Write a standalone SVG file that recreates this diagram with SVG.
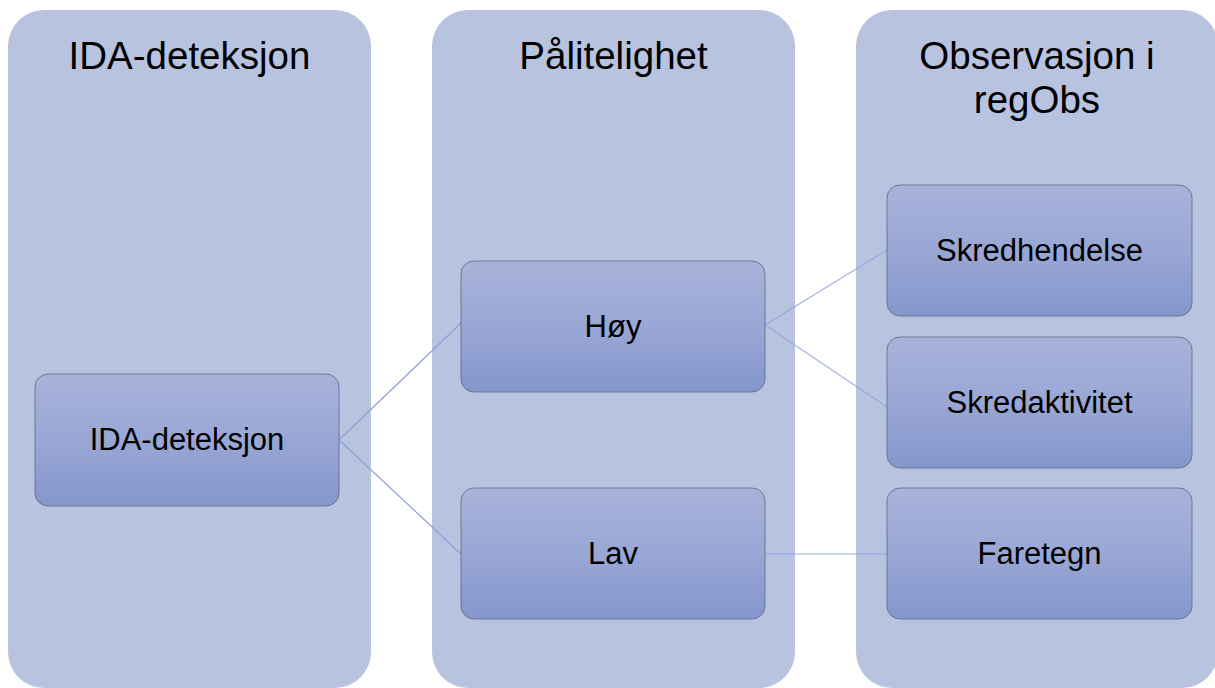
<svg xmlns="http://www.w3.org/2000/svg" width="1215" height="688" viewBox="0 0 1215 688">
  <defs>
    <linearGradient id="nodeGrad" x1="0" y1="0" x2="0" y2="1">
      <stop offset="0" stop-color="#A8B3DA"/>
      <stop offset="0.5" stop-color="#99A7D5"/>
      <stop offset="1" stop-color="#8496CD"/>
    </linearGradient>
    <style>
      .col { fill: #B8C3E0; }
      .node { fill: url(#nodeGrad); stroke: #5E6784; stroke-width: 0.8; }
      .head { font-family: "Liberation Sans", Arial, sans-serif; font-size: 38.5px; fill: #000; text-anchor: middle; }
      .label { font-family: "Liberation Sans", Arial, sans-serif; font-size: 31px; fill: #000; text-anchor: middle; }
      .conn { stroke: #8EA0DA; stroke-width: 1.2; fill: none; }
    </style>
  </defs>
  <rect width="1215" height="688" fill="#FFFFFF"/>

  <g id="col-ida">
    <rect class="col" x="8" y="10" width="363" height="678" rx="36" ry="36"/>
    <text class="head" x="189.5" y="69">IDA-deteksjon</text>
  </g>
  <g id="col-palitelighet">
    <rect class="col" x="432" y="10" width="363" height="678" rx="36" ry="36"/>
    <text class="head" x="613.5" y="69">Pålitelighet</text>
  </g>
  <g id="col-observasjon">
    <rect class="col" x="856" y="10" width="362" height="678" rx="36" ry="36"/>
    <text class="head" x="1037" y="69">Observasjon i</text>
    <text class="head" x="1037" y="113">regObs</text>
  </g>

  <g id="connectors">
    <line class="conn" x1="339" y1="440" x2="461" y2="323"/>
    <line class="conn" x1="339" y1="440" x2="461" y2="554"/>
    <line class="conn" x1="765" y1="325" x2="887" y2="250" stroke-opacity="0.8"/>
    <line class="conn" x1="765" y1="325" x2="887" y2="407" stroke-opacity="0.8"/>
    <line class="conn" x1="765" y1="554" x2="887" y2="554" stroke-opacity="0.9"/>
  </g>

  <g id="node-ida">
    <rect class="node" x="35" y="374" width="304" height="132" rx="13" ry="13"/>
    <text class="label" x="187" y="450">IDA-deteksjon</text>
  </g>
  <g id="node-hoy">
    <rect class="node" x="461" y="261" width="304" height="131" rx="13" ry="13"/>
    <text class="label" x="613" y="337">Høy</text>
  </g>
  <g id="node-lav">
    <rect class="node" x="461" y="488" width="304" height="131" rx="13" ry="13"/>
    <text class="label" x="613" y="564">Lav</text>
  </g>
  <g id="node-skredhendelse">
    <rect class="node" x="887" y="185" width="305" height="131" rx="13" ry="13"/>
    <text class="label" x="1039.5" y="261">Skredhendelse</text>
  </g>
  <g id="node-skredaktivitet">
    <rect class="node" x="887" y="337" width="305" height="131" rx="13" ry="13"/>
    <text class="label" x="1039.5" y="413">Skredaktivitet</text>
  </g>
  <g id="node-faretegn">
    <rect class="node" x="887" y="488" width="305" height="131" rx="13" ry="13"/>
    <text class="label" x="1039.5" y="564">Faretegn</text>
  </g>
</svg>
